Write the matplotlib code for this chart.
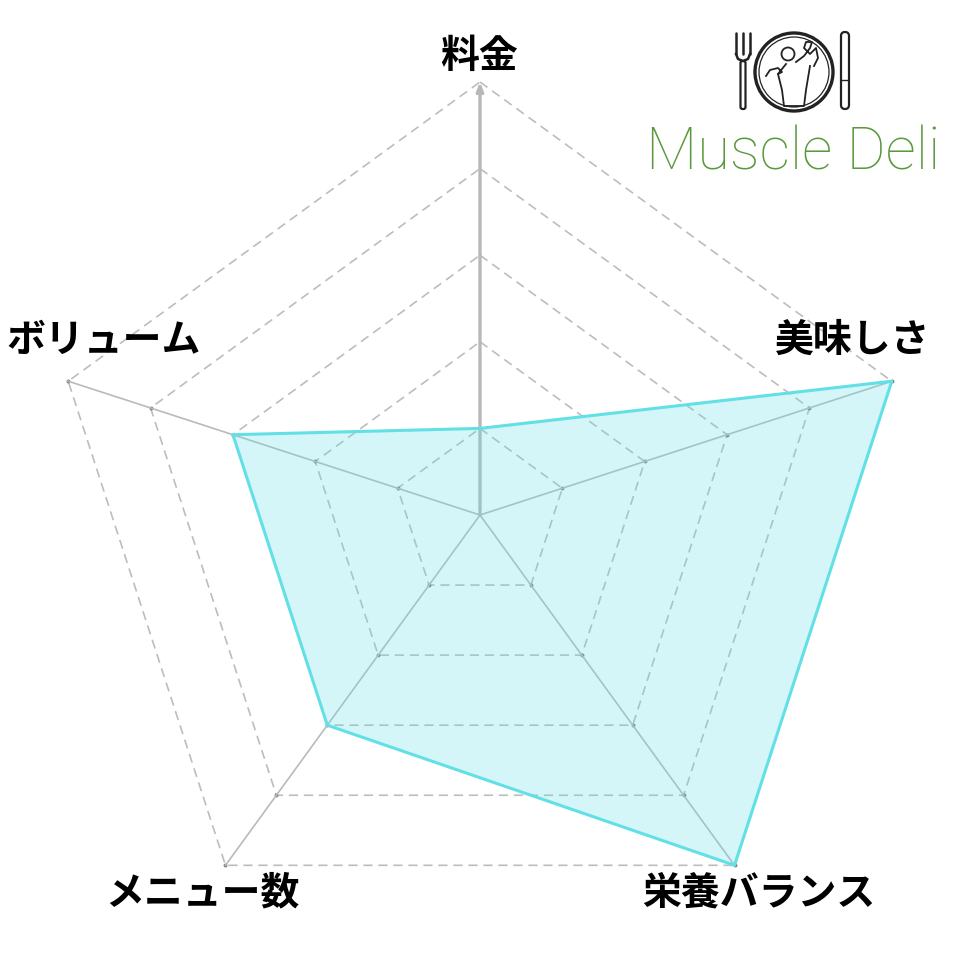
import numpy as np
import matplotlib
matplotlib.use("Agg")
import matplotlib.pyplot as plt
from matplotlib.patches import Circle, FancyBboxPatch

# ── Data ──────────────────────────────────────────────────────────────────────
categories = ["料金", "美味しさ", "栄養バランス", "メニュー数", "ボリューム"]
scores = [1, 5, 5, 3, 3]
rings = [1, 2, 3, 4, 5]
max_score = 5

# ── Style ─────────────────────────────────────────────────────────────────────
LINE = "#62e0e6"
GRID = "#bdbdbd"
SPOKE = "#bababa"
JP = ["Noto Sans CJK JP", "DejaVu Sans"]

fig = plt.figure(figsize=(9.6, 9.6), dpi=100)
cx, cy, rad = 0.5, 1 - 515 / 960, 433 / 960
ax = fig.add_axes([cx - rad, cy - rad, 2 * rad, 2 * rad], projection="polar")
ax.set_theta_offset(np.pi / 2)
ax.set_theta_direction(-1)
ax.set_ylim(0, max_score)
ax.set_xticks([])
ax.set_yticks([])
ax.grid(False)
ax.spines["polar"].set_visible(False)
ax.patch.set_alpha(0)

n = len(categories)
theta = np.arange(n) * 2 * np.pi / n
closed = np.append(theta, theta[0])

# dashed pentagon rings
for r in rings:
    ax.plot(closed, [r] * (n + 1), color=GRID, lw=1.2,
            dashes=(5.5, 3.5), clip_on=False, zorder=1)
    ax.plot(theta[1:], [r] * (n - 1), "o", color="#808080", ms=1.8,
            clip_on=False, zorder=1)

# spokes
for t in theta[1:]:
    ax.plot([t, t], [0, max_score], color=SPOKE, lw=1.2, clip_on=False, zorder=1)

# main (料金) axis, thicker with arrow
ax.annotate("", xy=(theta[0], max_score), xytext=(theta[0], 0),
            arrowprops=dict(arrowstyle="-|>,head_length=0.5,head_width=0.2",
                            color="#b8b8b8", lw=2.4, shrinkA=0, shrinkB=0),
            zorder=2, annotation_clip=False)

# data polygon
vals = scores + scores[:1]
ax.fill(closed, vals, color=LINE, alpha=0.27, lw=0, zorder=3)
ax.plot(closed, vals, color=LINE, lw=2.2, clip_on=False, zorder=4)

# category labels
label_pos = [(479, 56), (853, 340), (759, 893), (202, 893), (104, 340)]
for name, (px, py) in zip(categories, label_pos):
    fig.text(px / 960, 1 - py / 960, name, ha="center", va="center",
             fontsize=28, fontweight="bold", family=JP, color="black")

# ── Logo (top right) ──────────────────────────────────────────────────────────
fig.text(793 / 960, 1 - 153 / 960, "Muscle Deli", ha="center", va="center",
         fontsize=43, fontweight="light", family=["Roboto", "DejaVu Sans"],
         color="#5a993d")

INK = "#222222"
lx = fig.add_axes([700 / 960, 1 - 120 / 960, 190 / 960, 100 / 960])
lx.set_xlim(0, 190)
lx.set_ylim(0, 100)
lx.set_aspect("equal")
lx.axis("off")
# fork
for fx in (36, 43, 50):
    lx.plot([fx, fx], [87, 66], color=INK, lw=1.8, solid_capstyle="round")
lx.plot([36, 38, 43, 48, 50], [66, 61, 59, 61, 66], color=INK, lw=1.8)
lx.add_patch(FancyBboxPatch((40.5, 11), 5, 48, boxstyle="round,pad=0,rounding_size=2",
                            fc="none", ec=INK, lw=1.6))
# plate
lx.add_patch(Circle((94, 48), 39, fc="none", ec=INK, lw=2.4))
lx.add_patch(Circle((94, 48), 35, fc="none", ec=INK, lw=0.9))
# flexing figure
lx.add_patch(Circle((88, 66), 6.5, fc="none", ec=INK, lw=1.3))
lx.plot([66, 70, 78, 82, 78, 86], [44, 50, 52, 48, 46, 56], color=INK, lw=1.3)
lx.plot([96, 104, 110, 112, 106, 104, 110, 116, 118, 114],
        [58, 64, 72, 78, 78, 72, 66, 72, 62, 54], color=INK, lw=1.3)
lx.plot([78, 82, 84, 104, 106, 110], [46, 30, 14, 14, 30, 54], color=INK, lw=1.3)
# knife
lx.add_patch(FancyBboxPatch((141, 11), 8, 77, boxstyle="round,pad=0,rounding_size=4",
                            fc="none", ec=INK, lw=1.6))
lx.plot([142, 148], [40, 40], color=INK, lw=1.0)

fig.savefig("out.png", dpi=100)
